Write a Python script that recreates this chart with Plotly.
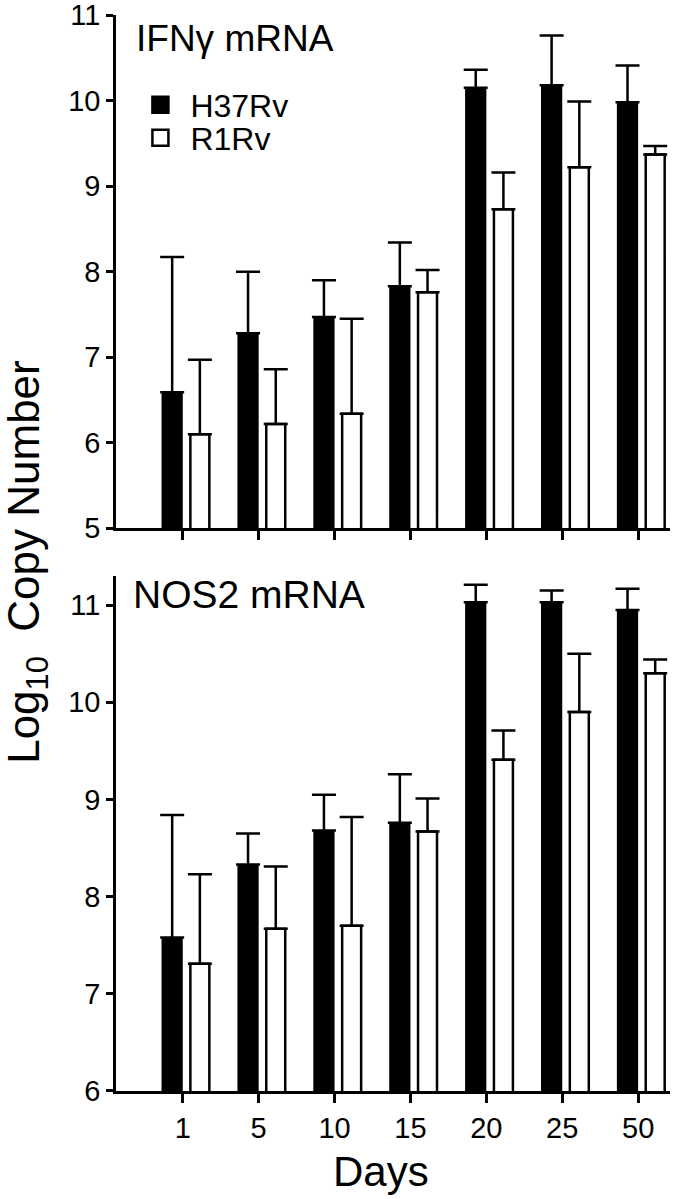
import plotly.graph_objects as go

days = ["1", "5", "10", "15", "20", "25", "50"]

ifng_h37rv = [6.59, 7.28, 7.47, 7.83, 10.15, 10.18, 9.98]
ifng_h37rv_err = [1.58, 0.72, 0.43, 0.51, 0.21, 0.58, 0.43]
ifng_r1rv = [6.10, 6.22, 6.34, 7.76, 8.73, 9.22, 9.37]
ifng_r1rv_err = [0.87, 0.64, 1.11, 0.26, 0.43, 0.77, 0.10]

nos2_h37rv = [7.58, 8.33, 8.68, 8.76, 11.03, 11.03, 10.95]
nos2_h37rv_err = [1.26, 0.32, 0.37, 0.50, 0.18, 0.12, 0.22]
nos2_r1rv = [7.31, 7.67, 7.70, 8.67, 9.41, 9.90, 10.30]
nos2_r1rv_err = [0.92, 0.64, 1.12, 0.34, 0.30, 0.60, 0.14]

FONT = "Liberation Sans, Arial, sans-serif"
LW = 2.5

fig = go.Figure()


def add_pair(h, he, r, re, xa, ya):
    fig.add_trace(go.Bar(
        x=days, y=h, xaxis=xa, yaxis=ya, offset=-0.28, width=0.28,
        marker=dict(color="black", line=dict(color="black", width=0)),
        error_y=dict(type="data", array=he, arrayminus=[0] * len(he), symmetric=False,
                     color="black", thickness=LW, width=12),
        showlegend=False, hoverinfo="skip"))
    fig.add_trace(go.Bar(
        x=days, y=r, xaxis=xa, yaxis=ya, offset=0.1, width=0.25,
        marker=dict(color="white", line=dict(color="black", width=LW)),
        error_y=dict(type="data", array=re, arrayminus=[0] * len(re), symmetric=False,
                     color="black", thickness=LW, width=12),
        showlegend=False, hoverinfo="skip"))


add_pair(ifng_h37rv, ifng_h37rv_err, ifng_r1rv, ifng_r1rv_err, "x", "y")
add_pair(nos2_h37rv, nos2_h37rv_err, nos2_r1rv, nos2_r1rv_err, "x2", "y2")

# legend entries (one legend per row so the row spacing can match)
fig.add_trace(go.Scatter(x=[None], y=[None], mode="markers", name="H37Rv", legend="legend",
                         marker=dict(symbol="square", size=16, color="black",
                                     line=dict(color="black", width=LW))))
fig.add_trace(go.Scatter(x=[None], y=[None], mode="markers", name="R1Rv", legend="legend2",
                         marker=dict(symbol="square", size=16, color="white",
                                     line=dict(color="black", width=LW))))

xcommon = dict(type="category", range=[-0.88, 6.42], showline=True, linecolor="black",
               linewidth=LW, ticks="outside", ticklen=9, tickwidth=LW, tickcolor="black",
               showgrid=False, zeroline=False, automargin=False,
               tickfont=dict(family=FONT, size=29, color="black"))
ycommon = dict(showline=True, linecolor="black", linewidth=LW, ticks="outside", ticklen=7,
               tickwidth=LW, tickcolor="black", showgrid=False, zeroline=False, dtick=1,
               automargin=False, ticklabeloverflow="allow",
               tickfont=dict(family=FONT, size=29, color="black"))

legend_common = dict(xanchor="left", yanchor="middle",
                     font=dict(family=FONT, size=32, color="black"),
                     bgcolor="rgba(0,0,0,0)", itemwidth=50)

fig.update_layout(
    template="none",
    width=677, height=1199,
    margin=dict(l=116, r=7, t=15, b=108, autoexpand=False),
    paper_bgcolor="white", plot_bgcolor="white",
    barmode="overlay",
    font=dict(family=FONT, color="black"),
    xaxis=dict(xcommon, anchor="y", showticklabels=False),
    yaxis=dict(ycommon, domain=[0.523, 1.0], range=[5, 11], anchor="x"),
    xaxis2=dict(xcommon, anchor="y2"),
    yaxis2=dict(ycommon, domain=[0.0, 0.4786], range=[6, 11.3], anchor="x2"),
    legend=dict(legend_common, x=0.026, y=0.9163),
    legend2=dict(legend_common, x=0.026, y=0.8857),
    annotations=[
        dict(text="IFNγ mRNA", xref="paper", yref="paper", x=0.033, y=0.9786,
             xanchor="left", yanchor="middle", showarrow=False,
             font=dict(family=FONT, size=37, color="black")),
        dict(text="NOS2 mRNA", xref="paper", yref="paper", x=0.027, y=0.461,
             xanchor="left", yanchor="middle", showarrow=False,
             font=dict(family=FONT, size=39, color="black")),
        dict(text="Log<sub>10</sub>  Copy Number", xref="paper", yref="paper",
             x=-0.161, y=0.4916, xanchor="center", yanchor="middle", textangle=-90,
             showarrow=False, font=dict(family=FONT, size=44, color="black")),
        dict(text="Days", xref="paper", yref="paper", x=0.478, y=-0.0745,
             xanchor="center", yanchor="middle", showarrow=False,
             font=dict(family=FONT, size=42, color="black")),
    ],
)

fig.write_html("out.html", config={"displayModeBar": False},
               post_script="document.body.style.margin='0';")
